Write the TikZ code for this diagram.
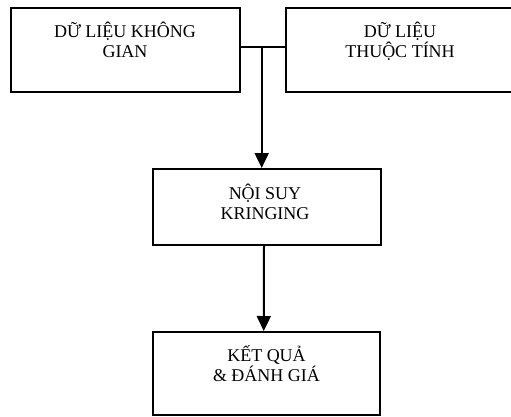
\documentclass[tikz,border=0pt]{standalone}
\usepackage{fontspec}
\setmainfont{Liberation Serif}
\usetikzlibrary{arrows.meta}
\begin{document}
\begin{tikzpicture}[x=1pt,y=-1pt,
  box/.style={draw, line width=2pt, inner sep=0pt},
  lbl/.style={font=\fontsize{18}{20}\selectfont, align=center, anchor=base, inner sep=0pt},
  arr/.style={line width=2pt, -{Triangle[length=15pt,width=14pt]}},
  conn/.style={line width=2pt}]
\useasboundingbox (0,0) rectangle (511,416);
\node[box, minimum width=228.5pt, minimum height=84pt] (kg) at (125.25,50) {};
\node[box, minimum width=229.5pt, minimum height=84pt] (tt) at (400.25,50) {};
\node[box, minimum width=228pt, minimum height=76pt] (ns) at (266.5,207) {};
\node[box, minimum width=227.5pt, minimum height=82.5pt] (kq) at (266.25,373.25) {};
\node[lbl] (kgt) at (125,57) {DỮ LIỆU KHÔNG\\GIAN};
\node[lbl] (ttt) at (400,57) {DỮ LIỆU\\THUỘC TÍNH};
\node[lbl] (nst) at (265,219) {NỘI SUY\\KRINGING};
\node[lbl] (kqt) at (266.5,381.5) {KẾT QUẢ\\\& ĐÁNH GIÁ};
\coordinate (j) at (261.7,46.7);
\draw[conn] (kg.east |- j) -- (tt.west |- j);
\draw[arr] (j) -- (ns.north -| j);
\draw[arr] ([xshift=-2.5pt]ns.south) -- ([xshift=-2.5pt]kq.north);
\end{tikzpicture}
\end{document}
